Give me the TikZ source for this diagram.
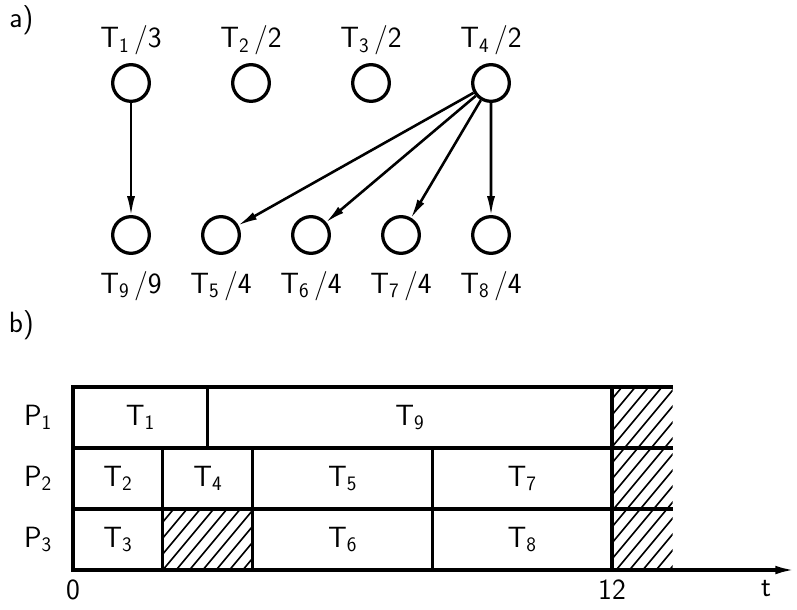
\documentclass[tikz,border=0pt]{standalone}
\usepackage{amsmath}
\usetikzlibrary{arrows.meta, positioning}

\newcommand{\tk}[2]{T\textsubscript{#1}\,/#2}

\tikzset{
  task/.style = {circle, draw, line width=2.8pt, minimum size=1.1cm, inner sep=0pt},
  tlabel/.style = {font=\fontsize{25}{29}\selectfont\sffamily, inner sep=1pt},
  dep/.style = {-{Latex[length=0.6cm, width=0.24cm]}, line width=2.2pt, shorten >=-1pt},
  bar/.style = {line width=2.8pt},
  hatch/.style = {line width=1.4pt},
}

\begin{document}
\begin{tikzpicture} [node distance = 3.6cm, on grid]

\useasboundingbox (-2.19,-1.17) rectangle (21.72,17.1);

% a) task graph
\node (a) [tlabel] at (-1.55,16.5) {a)};

\node (T1) [task, label={[tlabel, label distance=0.2cm]above:\tk{1}{3}}] at (1.74,14.61) {};
\node (T2) [task, right = of T1, label={[tlabel, label distance=0.2cm]above:\tk{2}{2}}] {};
\node (T3) [task, right = of T2, label={[tlabel, label distance=0.2cm]above:\tk{3}{2}}] {};
\node (T4) [task, right = of T3, label={[tlabel, label distance=0.2cm]above:\tk{4}{2}}] {};

\node (T9) [task, below = 4.56cm of T1, label={[tlabel, label distance=0.45cm]below:\tk{9}{9}}] {};
\node (T5) [task, right = 2.7cm of T9, label={[tlabel, label distance=0.45cm]below:\tk{5}{4}}] {};
\node (T6) [task, right = 2.7cm of T5, label={[tlabel, label distance=0.45cm]below:\tk{6}{4}}] {};
\node (T7) [task, right = 2.7cm of T6, label={[tlabel, label distance=0.45cm]below:\tk{7}{4}}] {};
\node (T8) [task, right = 2.7cm of T7, label={[tlabel, label distance=0.45cm]below:\tk{8}{4}}] {};

\draw [dep] (T1) -- (T9);
\draw [dep] (T4) -- (T5);
\draw [dep] (T4) -- (T6);
\draw [dep] (T4) -- (T7);
\draw [dep] (T4) -- (T8);

% b) schedule
\node (b) [tlabel] at (-1.55,7.35) {b)};

\begin{scope}[x=1.3475cm, y=1.83cm]
  % hatched (idle) parts
  \begin{scope}
    \clip (2,0) rectangle (4,1) (12,0) rectangle (13.35,3);
    \foreach \i in {-40,...,40}
      \draw [hatch] ([xshift=\i*0.4cm]2,0) -- ++(5cm,6cm);
  \end{scope}
  \draw [bar] (12,3) -- (13.35,3) (12,2) -- (13.35,2) (12,1) -- (13.35,1);
  \draw [bar] (2,0) rectangle (4,1);

  % tasks: start/end/row/name
  \foreach \s/\e/\r/\n in {0/3/2/1, 3/12/2/9,
                           0/2/1/2, 2/4/1/4, 4/8/1/5, 8/12/1/7,
                           0/2/0/3, 4/8/0/6, 8/12/0/8}
  {
    \draw [bar] (\s,\r) rectangle (\e,\r+1);
    \node [tlabel] at ({(\s+\e)/2},\r+0.5) {T\textsubscript{\n}};
  }

  \node (P1) [tlabel] at (-0.78,2.5) {P\textsubscript{1}};
  \node (P2) [tlabel] at (-0.78,1.5) {P\textsubscript{2}};
  \node (P3) [tlabel] at (-0.78,0.5) {P\textsubscript{3}};

  \coordinate (o) at (0,0);
  \coordinate (tend) at (16.08,0);
  \draw [bar, -{Latex[length=0.6cm, width=0.26cm]}] (o) -- (tend);

  \node (t0) [tlabel] at (0,-0.33) {0};
  \node (t12) [tlabel] at (12,-0.33) {12};
  \node (t) [tlabel] at (15.43,-0.3) {t};
\end{scope}

\end{tikzpicture}
\end{document}
